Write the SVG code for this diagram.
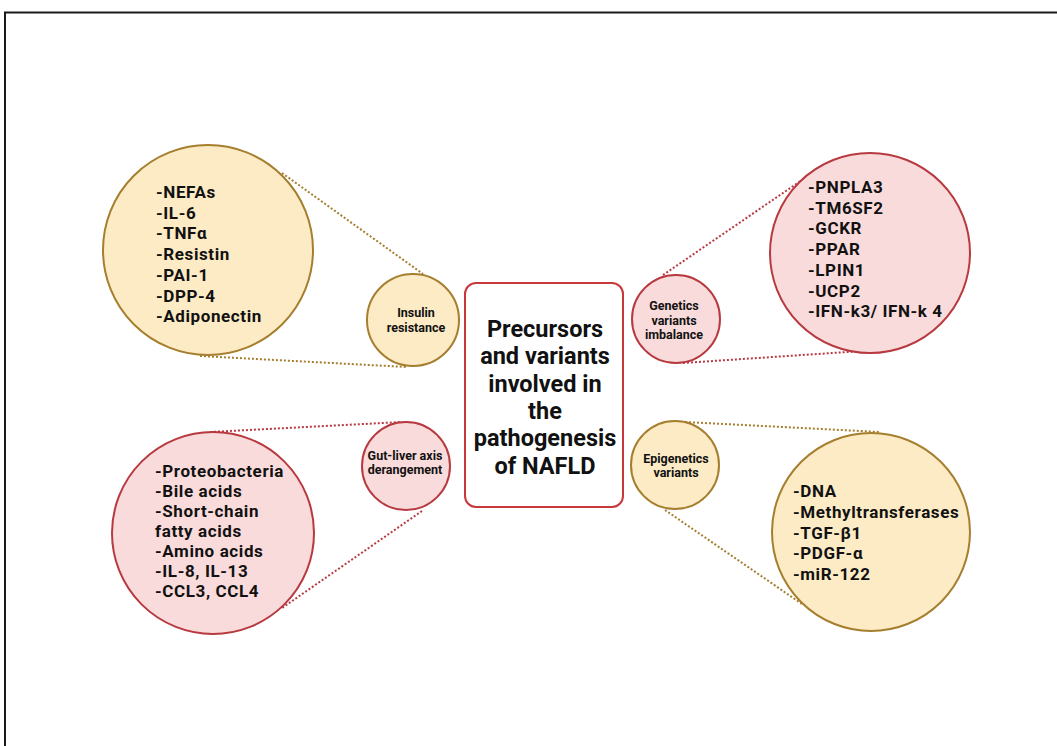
<svg xmlns="http://www.w3.org/2000/svg" width="1057" height="746" viewBox="0 0 1057 746">
<style>
.bg{fill:#fff}
.frame{fill:none;stroke:#1a1a1a;stroke-width:2}
.beige{fill:#FCEBC5;stroke:#A57E2E;stroke-width:2}
.pink{fill:#FADBDB;stroke:#B73A40;stroke-width:2}
.box{fill:#fff;stroke:#C8373A;stroke-width:2}
.dotb{stroke:#A57E2E;stroke-width:2;stroke-dasharray:2 2;fill:none}
.dotp{stroke:#B73A40;stroke-width:2;stroke-dasharray:2 2;fill:none}
text{font-family:Roboto,"Liberation Sans",sans-serif;font-weight:bold;fill:#111}
.list{font-size:17px;letter-spacing:0.6px}
.lab{font-size:12.5px;text-anchor:middle}
.title{font-size:23.5px;text-anchor:middle}
</style>
<rect class="bg" x="0" y="0" width="1057" height="746"/>
<path class="frame" d="M1057 12.5 H5 V746"/>
<g id="connectors">
<line class="dotb" x1="282" y1="173" x2="423" y2="274"/>
<line class="dotb" x1="200" y1="356" x2="407" y2="367"/>
<line class="dotp" x1="663" y1="275" x2="802" y2="180"/>
<line class="dotp" x1="683" y1="363" x2="877" y2="350"/>
<line class="dotp" x1="210" y1="432" x2="402" y2="422"/>
<line class="dotp" x1="422" y1="511" x2="282" y2="608"/>
<line class="dotb" x1="685" y1="422" x2="880" y2="432"/>
<line class="dotb" x1="665" y1="510" x2="802" y2="604"/>
</g>
<g id="center">
<rect class="box" x="465" y="283" width="158" height="224" rx="11"/>
<text class="title" x="545" y="337">Precursors</text>
<text class="title" x="545" y="364">and variants</text>
<text class="title" x="545" y="392">involved in</text>
<text class="title" x="545" y="419">the</text>
<text class="title" x="545" y="446">pathogenesis</text>
<text class="title" x="545" y="474">of NAFLD</text>
</g>
<g id="insulin-detail">
<circle class="beige" cx="208" cy="250" r="105"/>
<text class="list"><tspan x="156" y="198">-NEFAs</tspan><tspan x="156" y="218.7">-IL-6</tspan><tspan x="156" y="239.4">-TNFα</tspan><tspan x="156" y="260.1">-Resistin</tspan><tspan x="156" y="280.8">-PAI-1</tspan><tspan x="156" y="301.5">-DPP-4</tspan><tspan x="156" y="322.2">-Adiponectin</tspan></text>
</g>
<g id="insulin">
<circle class="beige" cx="413" cy="320" r="46"/>
<text class="lab" x="416" y="317">Insulin</text>
<text class="lab" x="416" y="332">resistance</text>
</g>
<g id="genetics">
<circle class="pink" cx="676" cy="319" r="44"/>
<text class="lab" x="674" y="310">Genetics</text>
<text class="lab" x="674" y="325">variants</text>
<text class="lab" x="674" y="339">imbalance</text>
</g>
<g id="genetics-detail">
<circle class="pink" cx="870" cy="253" r="100"/>
<text class="list"><tspan x="808" y="193">-PNPLA3</tspan><tspan x="808" y="213.7">-TM6SF2</tspan><tspan x="808" y="234.4">-GCKR</tspan><tspan x="808" y="255.1">-PPAR</tspan><tspan x="808" y="275.8">-LPIN1</tspan><tspan x="808" y="296.5">-UCP2</tspan><tspan x="808" y="317.2">-IFN-k3/ IFN-k 4</tspan></text>
</g>
<g id="gut">
<circle class="pink" cx="406" cy="466" r="44"/>
<text class="lab" x="405" y="460">Gut-liver axis</text>
<text class="lab" x="405" y="474">derangement</text>
</g>
<g id="gut-detail">
<circle class="pink" cx="213" cy="533" r="101"/>
<text class="list"><tspan x="155" y="477">-Proteobacteria</tspan><tspan x="155" y="497">-Bile acids</tspan><tspan x="155" y="517">-Short-chain</tspan><tspan x="155" y="537">fatty acids</tspan><tspan x="155" y="557">-Amino acids</tspan><tspan x="155" y="577">-IL-8, IL-13</tspan><tspan x="155" y="597">-CCL3, CCL4</tspan></text>
</g>
<g id="epigenetics">
<circle class="beige" cx="675" cy="465" r="44"/>
<text class="lab" x="676" y="463">Epigenetics</text>
<text class="lab" x="676" y="477">variants</text>
</g>
<g id="epigenetics-detail">
<circle class="beige" cx="871" cy="532" r="99"/>
<text class="list"><tspan x="793" y="497">-DNA</tspan><tspan x="793" y="518">-Methyltransferases</tspan><tspan x="793" y="539">-TGF-β1</tspan><tspan x="793" y="559">-PDGF-α</tspan><tspan x="793" y="580">-miR-122</tspan></text>
</g>
</svg>
